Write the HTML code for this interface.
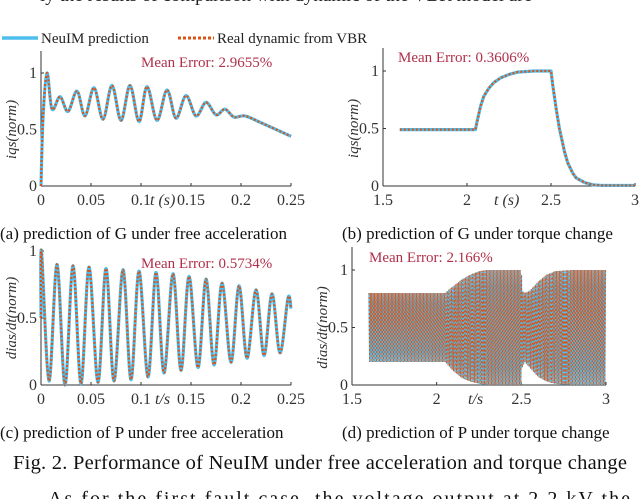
<!DOCTYPE html>
<html><head><meta charset="utf-8">
<style>
html,body{margin:0;padding:0;background:#fff;}
svg{display:block;font-family:"Liberation Serif",serif;}
</style></head>
<body>
<svg id="fig" width="640" height="499" viewBox="0 0 640 499" xmlns="http://www.w3.org/2000/svg">
<text x="40" y="1" font-size="19" fill="#222">ly the results of comparison with dynamic of the VBR model are</text>
<g>
<line x1="2" y1="38" x2="38" y2="38" stroke="#4DBEEE" stroke-width="3.5"/>
<text x="41" y="43" font-size="15" fill="#222">NeuIM prediction</text>
<line x1="178" y1="38" x2="214" y2="38" stroke="#D95319" stroke-width="3" stroke-dasharray="3,2"/>
<text x="217" y="43" font-size="15" fill="#222">Real dynamic from VBR</text>
</g>
<g id="plots"></g>
<text x="0" y="239" font-size="17" fill="#111">(a) prediction of G under free acceleration</text>
<text x="342" y="239" font-size="17" fill="#111">(b) prediction of G under torque change</text>
<text x="0" y="438" font-size="17" fill="#111">(c) prediction of P under free acceleration</text>
<text x="342" y="438" font-size="17" fill="#111">(d) prediction of P under torque change</text>
<text x="320" y="469" font-size="20.5" fill="#111" text-anchor="middle" textLength="614">Fig. 2. Performance of NeuIM under free acceleration and torque change</text>
<text x="48" y="505" font-size="20" fill="#111" textLength="582">As for the first fault case, the voltage output at 2.2 kV the</text>
</svg>
<script>
// Panel a: free acceleration i_qs
const aT=[0,0.002,0.006,0.011,0.019,0.027,0.036,0.044,0.053,0.062,0.071,0.080,0.089,0.098,0.106,0.116,0.126,0.135,0.145,0.155,0.165,0.175,0.184,0.193,0.204,0.22,0.25];
const aV=[0,0.6,1.0,0.68,0.79,0.66,0.84,0.62,0.87,0.59,0.89,0.58,0.89,0.57,0.88,0.58,0.85,0.6,0.8,0.62,0.74,0.63,0.68,0.61,0.62,0.56,0.44];
// Panel b: torque change i_qs
const bT=[1.6,2.05,2.06,2.08,2.1,2.13,2.16,2.2,2.25,2.3,2.4,2.5,2.51,2.53,2.55,2.58,2.6,2.63,2.65,2.7,2.75,2.8,3.0];
const bV=[0.49,0.49,0.56,0.69,0.78,0.85,0.9,0.94,0.97,0.99,1.0,1.0,0.88,0.68,0.5,0.3,0.2,0.11,0.07,0.03,0.01,0.005,0.005];
// Panel c: free acceleration derivative (extrema)
const cT=[0.0,0.0005,0.008,0.016,0.024,0.032,0.040,0.048,0.057,0.065,0.073,0.082,0.090,0.098,0.107,0.115,0.123,0.132,0.140,0.148,0.157,0.165,0.173,0.181,0.190,0.198,0.206,0.215,0.223,0.231,0.239,0.247,0.25];
const cV=[0.5,1.0,0.03,0.9,0.0,0.89,0.01,0.88,0.02,0.87,0.03,0.86,0.04,0.85,0.06,0.84,0.09,0.83,0.11,0.81,0.13,0.79,0.15,0.76,0.17,0.74,0.2,0.71,0.22,0.68,0.24,0.65,0.57];
// Panel d: envelope of fast oscillation
const dT=[1.6,2.05,2.08,2.1,2.15,2.2,2.25,2.3,2.5,2.505,2.52,2.55,2.6,2.65,2.7,2.8,3.0];
const dUp=[0.8,0.8,0.84,0.86,0.92,0.96,0.99,1.0,1.0,0.82,0.8,0.82,0.9,0.96,0.99,1.0,1.0];
const dLo=[0.2,0.2,0.15,0.12,0.06,0.03,0.01,0.0,0.0,0.15,0.2,0.15,0.07,0.03,0.01,0.0,0.0];

const NS="http://www.w3.org/2000/svg";
const root=document.getElementById('plots');
function mk(tag,attrs,parent){const e=document.createElementNS(NS,tag);for(const k in attrs)e.setAttribute(k,attrs[k]);(parent||root).appendChild(e);return e;}
function interp(xs,ys,x){if(x<=xs[0])return ys[0];for(let i=1;i<xs.length;i++){if(x<=xs[i]){const f=(x-xs[i-1])/(xs[i]-xs[i-1]);return ys[i-1]+f*(ys[i]-ys[i-1]);}}return ys[ys.length-1];}
function smoothPath(pts){let d='M'+pts[0][0]+','+pts[0][1];for(let i=0;i<pts.length-1;i++){const p0=pts[Math.max(0,i-1)],p1=pts[i],p2=pts[i+1],p3=pts[Math.min(pts.length-1,i+2)];const c1x=p1[0]+(p2[0]-p0[0])/6,c1y=p1[1]+(p2[1]-p0[1])/6,c2x=p2[0]-(p3[0]-p1[0])/6,c2y=p2[1]-(p3[1]-p1[1])/6;d+=` C${c1x.toFixed(2)},${c1y.toFixed(2)} ${c2x.toFixed(2)},${c2y.toFixed(2)} ${p2[0].toFixed(2)},${p2[1].toFixed(2)}`;}return d;}
function linePath(pts){return pts.map((p,i)=>(i?'L':'M')+p[0].toFixed(2)+','+p[1].toFixed(2)).join(' ');}

function axes(cfg){
  const g=mk('g',{});
  
  
  const X=v=>cfg.x0+(v-cfg.xmin)/(cfg.xmax-cfg.xmin)*(cfg.x1-cfg.x0);
  const Y=v=>cfg.y0-(v)/(1)*(cfg.y0-cfg.y1);
  mk('line',{x1:cfg.x0,y1:cfg.top,x2:cfg.x0,y2:cfg.y0,stroke:'#333','stroke-width':1},g);
  mk('line',{x1:cfg.x0,y1:cfg.y0,x2:cfg.x1,y2:cfg.y0,stroke:'#333','stroke-width':1},g);
  cfg.xticks.forEach((t,i)=>{mk('line',{x1:X(t),y1:cfg.y0,x2:X(t),y2:cfg.y0-3,stroke:'#333'},g);
    const tx=mk('text',{x:X(t),y:cfg.y0+19,'font-size':16,'text-anchor':'middle',fill:'#333'},g);tx.textContent=cfg.xlabels[i];
    
    });
  [0,0.5,1].forEach((t,i)=>{mk('line',{x1:cfg.x0,y1:Y(t),x2:cfg.x0+3,y2:Y(t),stroke:'#333'},g);
    const tx=mk('text',{x:cfg.x0-4,y:Y(t)+5,'font-size':16,'text-anchor':'end',fill:'#333'},g);tx.textContent=['0','0.5','1'][i];
    
    });
  const xl=mk('text',{x:cfg.xlx,y:cfg.y0+19,'font-size':16,fill:'#333','font-style':'italic'},g);xl.textContent=cfg.xlabel;
  
  
  const yl=mk('text',{x:0,y:0,'font-size':15,fill:'#333','font-style':'italic','text-anchor':'middle',transform:`translate(${cfg.ylx},${(cfg.y0+cfg.y1)/2}) rotate(-90)`},g);yl.textContent=cfg.ylabel;
  
  
  const me=mk('text',{x:cfg.mex,y:cfg.mey,'font-size':15,fill:'#B0304A'},g);me.textContent=cfg.me;
  
  
  return {g,X,Y};
}
function series(ax,T,V,name,linear){
  const pts=T.map((t,i)=>[ax.X(t),ax.Y(V[i])]);
  const d=linear?linePath(pts):smoothPath(pts);
  const p1=mk('path',{d:d,fill:'none',stroke:'#4DBEEE','stroke-width':3.2,'stroke-linejoin':'round'},ax.g);
  
  
  const p2=mk('path',{d:d,fill:'none',stroke:'#D95319','stroke-width':2.2,'stroke-dasharray':'2,2'},ax.g);
  
  
}

const A=axes({name:'panel-a',x0:41,x1:291,xmin:0,xmax:0.25,y0:186,y1:73,top:51,xticks:[0,0.05,0.1,0.15,0.2,0.25],xlabels:['0','0.05','0.1','0.15','0.2','0.25'],xlabel:'t (s)',xlx:150,ylx:16,ylabel:'iqs(norm)',me:'Mean Error: 2.9655%',mex:141,mey:67});
series(A,aT,aV,'panel-a');
const B=axes({name:'panel-b',x0:383,x1:635,xmin:1.5,xmax:3,y0:186,y1:71,top:48,xticks:[1.5,2,2.5,3],xlabels:['1.5','2','2.5','3'],xlabel:'t (s)',xlx:494,ylx:358,ylabel:'iqs(norm)',me:'Mean Error: 0.3606%',mex:398,mey:62});
series(B,bT,bV,'panel-b',true);
const C=axes({name:'panel-c',x0:41,x1:291,xmin:0,xmax:0.25,y0:385,y1:251,top:251,xticks:[0,0.05,0.1,0.15,0.2,0.25],xlabels:['0','0.05','0.1','0.15','0.2','0.25'],xlabel:'t/s',xlx:155,ylx:16,ylabel:'dias/dt(norm)',me:'Mean Error: 0.5734%',mex:141,mey:268});
series(C,cT,cV,'panel-c');
const D=axes({name:'panel-d',x0:352,x1:606,xmin:1.5,xmax:3,y0:385,y1:270,top:247,xticks:[1.5,2,2.5,3],xlabels:['1.5','2','2.5','3'],xlabel:'t/s',xlx:468,ylx:327,ylabel:'dias/dt(norm)',me:'Mean Error: 2.166%',mex:369,mey:262});
// dense oscillation drawn between envelope arrays
(function(){
  let d='';const x0=D.X(dT[0]),x1=D.X(dT[dT.length-1]);let up=true;
  for(let x=x0;x<=x1;x+=0.7){const t=dT[0]+(x-x0)/(x1-x0)*(dT[dT.length-1]-dT[0]);
    const v=up?interp(dT,dUp,t):interp(dT,dLo,t);d+=(d?'L':'M')+x.toFixed(2)+','+D.Y(v).toFixed(2);up=!up;}
  const p1=mk('path',{d:d,fill:'none',stroke:'#4DBEEE','stroke-width':1.2},D.g);
  
  
  const p2=mk('path',{d:d,fill:'none',stroke:'#D95319','stroke-width':0.9,'stroke-dasharray':'2,2'},D.g);
  
  
})();
</script>
</body></html>
